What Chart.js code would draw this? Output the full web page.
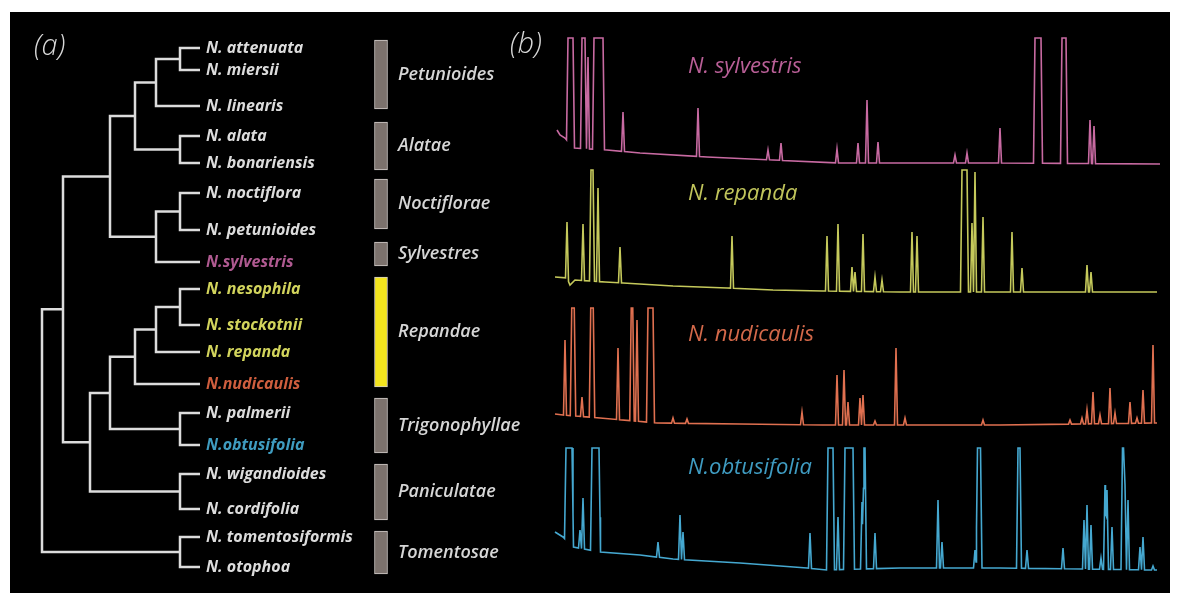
<!DOCTYPE html>
<html>
<head>
<meta charset="utf-8">
<script src="https://cdn.jsdelivr.net/npm/chart.js@4.4.1/dist/chart.umd.min.js"></script>
<style>
  html, body { margin: 0; padding: 0; background: #fff; }
  #panel { position: absolute; left: 10px; top: 12px; width: 1160px; height: 581px; background: #000; }
  .box { position: absolute; }
</style>
</head>
<body>
<div id="panel">
  <div class="box" style="left:0;top:0;width:540px;height:581px"><canvas id="tree"></canvas></div>
  <div class="box" style="left:540px;top:24px;width:615px;height:134px"><canvas id="tr0"></canvas></div>
  <div class="box" style="left:540px;top:154px;width:615px;height:134px"><canvas id="tr1"></canvas></div>
  <div class="box" style="left:540px;top:289px;width:615px;height:134px"><canvas id="tr2"></canvas></div>
  <div class="box" style="left:540px;top:434px;width:615px;height:134px"><canvas id="tr3"></canvas></div>
</div>
<script>
// ---------- (a) phylogeny ----------
const tipNames = [
  "N. attenuata","N. miersii","N. linearis","N. alata","N. bonariensis",
  "N. noctiflora","N. petunioides","N.sylvestris","N. nesophila","N. stockotnii",
  "N. repanda","N.nudicaulis","N. palmerii","N.obtusifolia","N. wigandioides",
  "N. cordifolia","N. tomentosiformis","N. otophoa"
];
const tipColors = [
  "#dcdcdc","#dcdcdc","#dcdcdc","#dcdcdc","#dcdcdc",
  "#dcdcdc","#dcdcdc","#b05a91","#d2d45c","#d2d45c",
  "#d2d45c","#cf5e3e","#dcdcdc","#3f9cc0","#dcdcdc",
  "#dcdcdc","#dcdcdc","#dcdcdc"
];
const tipY = [48, 70, 106, 136, 163, 193, 230, 262, 289, 325, 352, 384, 413, 445, 474, 509, 537, 567];
const tipDepth = 200;
// internal nodes: children (tip index < 18, else node index) and depth
const nodeChildren = [[0,1],[18,2],[3,4],[19,20],[5,6],[22,7],[21,23],[8,9],[25,10],[26,11],
                      [12,13],[27,28],[14,15],[29,30],[24,31],[16,17],[32,33]];
const nodeDepth = [180,156,180,135,180,156,110,180,156,135,180,110,180,90,63,180,42];

const cladeNames = ["Petunioides","Alatae","Noctiflorae","Sylvestres","Repandae","Trigonophyllae","Paniculatae","Tomentosae"];
const cladeTop = [40, 122, 179, 242, 277, 398, 464, 531];
const cladeBottom = [109, 170, 229, 266, 387, 453, 520, 574];
const cladeColors = ["#7c726d","#7c726d","#7c726d","#7c726d","#f3e41e","#7c726d","#7c726d","#7c726d"];

// ---------- (b) chromatograms: time (min) / intensity ----------
const traceNames = ["N. sylvestris","N. repanda","N. nudicaulis","N.obtusifolia"];
const traceColors = ["#c86aa2","#c5c95b","#e07050","#45a8d0"];
const labelColors = ["#b95f97","#c1c55b","#d4694a","#3f9cc2"];

const sylvBaseT = [0.2, 0.5, 1.0, 1.8, 5.2, 8.5, 15.2, 21.8, 28.5, 44.5, 60.5];
const sylvBaseI = [40, 35, 32, 22, 20, 17, 13, 10, 7, 7, 6];
const sylvPeakT = [1.55, 2.85, 3.3, 4.35, 6.8, 14.3, 21.3, 22.6, 28.2, 30.3, 31.2, 32.3, 40.0, 41.2, 44.5, 48.3, 50.9, 53.5, 53.9];
const sylvPeakI = [132, 132, 113, 132, 58, 62, 20, 27, 21, 27, 70, 28, 15, 17, 42, 132, 132, 50, 44];
const sylvPeakW = [0.5, 0.3, 0, 0.9, 0, 0, 0, 0, 0, 0, 0, 0, 0, 0, 0, 0.6, 0.4, 0, 0];

const repBaseT = [0.0, 1.2, 1.5, 2.0, 5.0, 6.8, 11.8, 17.2, 21.8, 26.8, 34.5, 60.2];
const repBaseI = [23, 22, 15, 20, 18, 17, 14, 12, 10, 9, 8, 8];
const repPeakT = [1.2, 2.8, 3.7, 4.3, 6.5, 17.7, 27.2, 28.3, 29.7, 30.0, 30.8, 32.0, 32.7, 35.7, 36.2, 40.95, 41.7, 42.0, 42.8, 45.7, 46.7, 53.2, 53.6];
const repPeakI = [78, 76, 130, 112, 53, 64, 64, 76, 33, 28, 66, 23, 20, 68, 64, 130, 77, 128, 83, 68, 32, 35, 28];
const repPeakW = [0, 0, 0.2, 0, 0, 0, 0, 0, 0, 0, 0, 0, 0, 0, 0, 0.5, 0, 0, 0, 0, 0, 0, 0];

const nudBaseT = [0.0, 0.8, 4.5, 10.2, 18.5, 26.8, 44.5, 60.2];
const nudBaseI = [21, 20, 17, 12, 11, 10, 10, 12];
const nudPeakT = [1.0, 1.8, 2.7, 3.7, 6.3, 7.7, 8.2, 9.55, 11.8, 13.2, 24.7, 28.2, 28.9, 29.3, 30.5, 30.8, 32.0, 34.1, 35.0, 42.8,
                  51.5, 52.7, 53.2, 53.8, 54.5, 55.5, 56.0, 57.5, 58.2, 58.8, 59.8];
const nudPeakI = [95, 127, 38, 127, 87, 127, 115, 127, 17, 16, 23, 60, 65, 33, 37, 40, 14, 87, 17, 15,
                  15, 17, 25, 43, 20, 47, 22, 33, 17, 45, 90];
const nudPeakW = [0, 0.25, 0, 0.25, 0, 0.15, 0, 0.5, 0, 0, 0, 0, 0, 0, 0, 0, 0, 0, 0, 0,
                  0, 0, 0, 0, 0, 0, 0, 0, 0, 0, 0];

const obtBaseT = [0.0, 0.8, 1.8, 4.5, 8.5, 11.8, 18.5, 25.2, 27.2, 34.5, 44.5, 60.2];
const obtBaseI = [48, 43, 33, 28, 25, 21, 17, 12, 10, 12, 12, 10];
const obtPeakT = [1.4, 2.5, 2.8, 4.05, 10.3, 12.5, 12.8, 25.5, 27.55, 28.3, 29.4, 30.7, 30.95, 32.0, 38.3, 38.7, 42.0, 42.4,
                  46.4, 47.2, 50.8, 52.9, 53.2, 53.6, 54.6, 55.0, 55.2, 55.7, 56.8, 57.0, 57.3, 58.5, 58.8, 59.8];
const obtPeakI = [132, 50, 82, 132, 38, 65, 48, 47, 132, 63, 132, 78, 132, 47, 80, 38, 30, 132,
                  132, 30, 32, 60, 75, 55, 22, 95, 90, 53, 132, 95, 80, 33, 43, 14];
const obtPeakW = [0.6, 0, 0, 0.7, 0, 0, 0, 0, 0.5, 0, 0.8, 0, 0.1, 0, 0, 0, 0, 0.3,
                  0.2, 0, 0, 0, 0, 0, 0, 0, 0, 0, 0.1, 0, 0, 0, 0, 0];

const traces = [
  [sylvBaseT, sylvBaseI, sylvPeakT, sylvPeakI, sylvPeakW],
  [repBaseT, repBaseI, repPeakT, repPeakI, repPeakW],
  [nudBaseT, nudBaseI, nudPeakT, nudPeakI, nudPeakW],
  [obtBaseT, obtBaseI, obtPeakT, obtPeakI, obtPeakW]
];

const FONT = "'Open Sans', 'DejaVu Sans', sans-serif";
const nTips = tipNames.length;

function yOf(i){
  if (i < nTips) return tipY[i];
  const k = nodeChildren[i - nTips];
  return (yOf(k[0]) + yOf(k[1])) / 2;
}
function xOf(i){ return i < nTips ? tipDepth : nodeDepth[i - nTips]; }

// rectangular branches, one polyline per child, broken by nulls
function treeSegments(){
  const pts = [];
  nodeChildren.forEach((kids, k) => {
    const id = k + nTips, nx = xOf(id), ny = yOf(id);
    kids.forEach(c => {
      const cy = yOf(c);
      pts.push({x:nx, y:ny}, {x:nx, y:cy}, {x:xOf(c), y:cy}, {x:null, y:null});
    });
  });
  return pts;
}

const treeText = {
  id: 'treeText',
  afterDatasetsDraw(chart){
    const {ctx, scales:{x, y}} = chart;
    ctx.save();
    ctx.textBaseline = 'middle';
    ctx.textAlign = 'left';
    ctx.font = `italic 700 16px ${FONT}`;
    tipNames.forEach((n, i) => {
      ctx.fillStyle = tipColors[i];
      ctx.fillText(n, x.getPixelForValue(tipDepth) + 6, y.getPixelForValue(tipY[i]));
    });
    ctx.font = `italic 600 18px ${FONT}`;
    ctx.fillStyle = '#d6d6d6';
    cladeNames.forEach((n, i) => {
      ctx.fillText(n, x.getPixelForValue(398), y.getPixelForValue((cladeTop[i] + cladeBottom[i]) / 2));
    });
    ctx.font = `italic 300 29px ${FONT}`;
    ctx.fillStyle = '#d8d8d8';
    ctx.fillText('(a)', x.getPixelForValue(34), y.getPixelForValue(47));
    ctx.fillText('(b)', x.getPixelForValue(510), y.getPixelForValue(45));
    ctx.restore();
  }
};

new Chart(document.getElementById('tree'), {
  type: 'scatter',
  data: {
    datasets: [
      {
        data: treeSegments(), showLine: true, spanGaps: false,
        borderColor: '#dcdcdc', borderWidth: 2.5, pointRadius: 0,
        borderJoinStyle: 'miter', borderCapStyle: 'butt'
      },
      {
        type: 'bar',
        data: cladeNames.map((n, i) => ({x: 381, y: [cladeTop[i], cladeBottom[i]]})),
        backgroundColor: cladeColors, borderColor: '#d2cdca', borderWidth: 1,
        borderSkipped: false, barThickness: 13
      }
    ]
  },
  options: {
    responsive: true, maintainAspectRatio: false, animation: false,
    layout: { padding: 0 },
    plugins: { legend: { display: false }, tooltip: { enabled: false } },
    scales: {
      x: { type: 'linear', display: false, offset: false, min: 10, max: 550 },
      y: { type: 'linear', display: false, offset: false, min: 12, max: 593, reverse: true }
    }
  },
  plugins: [treeText]
});

// chromatogram: baseline anchors + peaks (trapezoid/triangle), upper envelope
function buildTrace(bT, bI, pT, pI, pW){
  const FOOT = 0.15;
  const baseAt = t => {
    if (t <= bT[0]) return bI[0];
    for (let i = 1; i < bT.length; i++){
      if (t <= bT[i]) return bI[i-1] + (bI[i] - bI[i-1]) * (t - bT[i-1]) / (bT[i] - bT[i-1]);
    }
    return bI[bI.length - 1];
  };
  const peakAt = (t, i) => {
    const a = pT[i] - pW[i] / 2, b = pT[i] + pW[i] / 2, base = baseAt(t);
    if (t >= a && t <= b) return pI[i];
    if (t < a && t > a - FOOT) return base + (pI[i] - base) * (t - (a - FOOT)) / FOOT;
    if (t > b && t < b + FOOT) return base + (pI[i] - base) * ((b + FOOT) - t) / FOOT;
    return base;
  };
  const xs = new Set(bT);
  pT.forEach((t, i) => {
    const w = pW[i] / 2;
    [t - w - FOOT, t - w, t + w, t + w + FOOT].forEach(v => xs.add(Math.round(v * 1000) / 1000));
  });
  return [...xs].sort((a, b) => a - b).map(t => {
    let v = baseAt(t);
    pT.forEach((_, i) => { v = Math.max(v, peakAt(t, i)); });
    return {x: t, y: v};
  });
}

const traceLabelT = 13.3;
const traceLabelI = [103, 106, 100, 112];

traces.forEach((tr, k) => {
  const label = {
    id: 'lab' + k,
    afterDatasetsDraw(chart){
      const {ctx, scales:{x, y}} = chart;
      ctx.save();
      ctx.font = `italic 400 22px ${FONT}`;
      ctx.fillStyle = labelColors[k];
      ctx.textBaseline = 'middle';
      ctx.fillText(traceNames[k], x.getPixelForValue(traceLabelT), y.getPixelForValue(traceLabelI[k]));
      ctx.restore();
    }
  };
  new Chart(document.getElementById('tr' + k), {
    type: 'scatter',
    data: {
      datasets: [{
        data: buildTrace(...tr), showLine: true,
        borderColor: traceColors[k], borderWidth: 1.6, pointRadius: 0, tension: 0
      }]
    },
    options: {
      responsive: true, maintainAspectRatio: false, animation: false,
      layout: { padding: 0 },
      plugins: { legend: { display: false }, tooltip: { enabled: false } },
      scales: {
        x: { type: 'linear', display: false, offset: false, min: -0.5, max: 61 },
        y: { type: 'linear', display: false, min: 0, max: 134 }
      }
    },
    plugins: [label]
  });
});
</script>
</body>
</html>
